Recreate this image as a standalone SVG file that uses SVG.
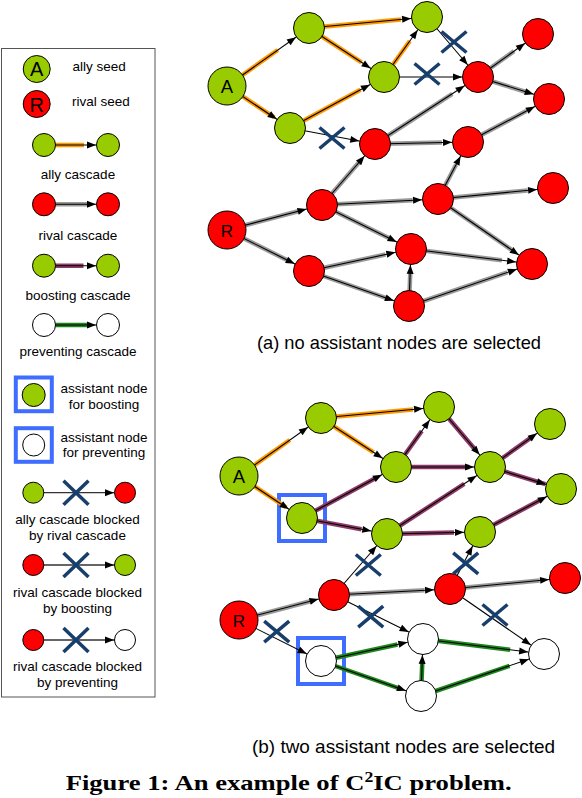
<svg xmlns="http://www.w3.org/2000/svg" width="582" height="798" viewBox="0 0 582 798">
<defs>
<style>
.n{stroke:#000;stroke-width:1}
.g{fill:#99cc00}
.r{fill:#ff0000}
.w{fill:#fff}
.l{stroke:#000;stroke-width:1.1;fill:none;marker-end:url(#ah)}
.ls{stroke:#000;stroke-width:1.1;fill:none;marker-end:url(#ahs)}
.lb{stroke:#333;stroke-width:1.3;fill:none;marker-end:url(#ahs2)}
.bo{stroke:#ff9900;stroke-width:4.5}
.bg{stroke:#9a9a9a;stroke-width:4.5}
.bp{stroke:#8e3a66;stroke-width:4.5}
.bv{stroke:#1d861d;stroke-width:4.5}
.x{stroke:#183f6b;stroke-width:3.5;fill:none}
.box{fill:none;stroke:#3f6dff;stroke-width:4}
.t{font-family:"Liberation Sans",Arial,sans-serif;fill:#000}
.lt{font-family:"Liberation Sans",Arial,sans-serif;font-size:13.5px;fill:#000}
.c{text-anchor:middle}
</style>
<marker id="ah" markerUnits="userSpaceOnUse" markerWidth="12" markerHeight="8" refX="25" refY="3.5" orient="auto" overflow="visible"><path d="M0,0 L9,3.5 L0,7 Z" fill="#000"/></marker>
<marker id="ahs" markerUnits="userSpaceOnUse" markerWidth="12" markerHeight="8" refX="21" refY="3.5" orient="auto" overflow="visible"><path d="M0,0 L9,3.5 L0,7 Z" fill="#000"/></marker>
<marker id="ahs2" markerUnits="userSpaceOnUse" markerWidth="12" markerHeight="8" refX="20" refY="3.5" orient="auto" overflow="visible"><path d="M0,0 L9,3.5 L0,7 Z" fill="#000"/></marker>
<path id="xm" d="M-12.5,-10.5 L12.5,10.5 M-12.5,10.5 L12.5,-10.5"/>
<path id="xl" d="M-12.5,-12 L12.5,12 M-12.5,12 L12.5,-12"/>
</defs>
<rect width="582" height="798" fill="#fff"/>

<!-- Legend -->
<g id="legend">
<rect x="1.5" y="48.5" width="153.5" height="648.5" fill="none" stroke="#555" stroke-width="1"/>
<g id="leg-ally-seed">
<circle class="n g" cx="36.7" cy="69" r="13.5"/>
<text class="t c" x="36.7" y="76" font-size="20">A</text>
<text class="lt" x="72.5" y="71">ally seed</text>
</g>
<g id="leg-rival-seed">
<circle class="n r" cx="36.7" cy="104" r="13.5"/>
<text class="t c" x="36.7" y="111.5" font-size="20">R</text>
<text class="lt" x="72" y="106">rival seed</text>
</g>
<g id="leg-ally-cascade">
<line class="bo" x1="44" y1="145" x2="84" y2="145"/>
<line class="ls" x1="44" y1="145" x2="108" y2="145"/>
<circle class="n g" cx="44" cy="145" r="11.5"/>
<circle class="n g" cx="108" cy="145" r="11.5"/>
<text class="lt c" x="78" y="178.5">ally cascade</text>
</g>
<g id="leg-rival-cascade">
<line class="bg" x1="44" y1="204.3" x2="87" y2="204.3"/>
<line class="ls" x1="44" y1="204.3" x2="108" y2="204.3"/>
<circle class="n r" cx="44" cy="204.3" r="11.5"/>
<circle class="n r" cx="108" cy="204.3" r="11.5"/>
<text class="lt c" x="78" y="240">rival cascade</text>
</g>
<g id="leg-boosting-cascade">
<line class="bp" x1="44" y1="265.7" x2="83.5" y2="265.7"/>
<line class="ls" x1="44" y1="265.7" x2="108" y2="265.7"/>
<circle class="n g" cx="44" cy="265.7" r="11.5"/>
<circle class="n g" cx="108" cy="265.7" r="11.5"/>
<text class="lt c" x="78" y="299.5">boosting cascade</text>
</g>
<g id="leg-preventing-cascade">
<line class="bv" x1="44" y1="325" x2="87" y2="325"/>
<line class="ls" x1="44" y1="325" x2="108" y2="325"/>
<circle class="n w" cx="44" cy="325" r="11.5"/>
<circle class="n w" cx="108" cy="325" r="11.5"/>
<text class="lt c" x="78" y="356">preventing cascade</text>
</g>
<g id="leg-assist-boost">
<rect class="box" x="15.8" y="377.5" width="36" height="33.7" stroke-width="3"/>
<circle class="n g" cx="33.7" cy="395" r="11.5"/>
<text class="lt c" x="104" y="392.5">assistant node</text>
<text class="lt c" x="104" y="408.5">for boosting</text>
</g>
<g id="leg-assist-prevent">
<rect class="box" x="15.8" y="428.2" width="36" height="33.6" stroke-width="3"/>
<circle class="n w" cx="33.7" cy="445" r="11"/>
<text class="lt c" x="104" y="441.5">assistant node</text>
<text class="lt c" x="104" y="457">for preventing</text>
</g>
<g id="leg-block-ally">
<line class="lb" x1="33.3" y1="492.7" x2="125" y2="492.7"/>
<circle class="n g" cx="33.3" cy="492.7" r="10.5"/>
<circle class="n r" cx="125" cy="492.7" r="10.5"/>
<use href="#xl" class="x" x="76" y="492.7"/>
<text class="lt c" x="77.5" y="524">ally cascade blocked</text>
<text class="lt c" x="77.5" y="540">by rival cascade</text>
</g>
<g id="leg-block-boost">
<line class="lb" x1="33.3" y1="565" x2="125" y2="565"/>
<circle class="n r" cx="33.3" cy="565" r="10.5"/>
<circle class="n g" cx="125" cy="565" r="10.5"/>
<use href="#xl" class="x" x="76" y="565"/>
<text class="lt c" x="77.5" y="597">rival cascade blocked</text>
<text class="lt c" x="77.5" y="613">by boosting</text>
</g>
<g id="leg-block-prevent">
<line class="lb" x1="33.3" y1="640" x2="125" y2="640"/>
<circle class="n r" cx="33.3" cy="640" r="10.5"/>
<circle class="n w" cx="125" cy="640" r="10.5"/>
<use href="#xl" class="x" x="76" y="640"/>
<text class="lt c" x="77.5" y="670.5">rival cascade blocked</text>
<text class="lt c" x="77.5" y="686.5">by preventing</text>
</g>
</g>

<!-- Diagram (a) -->
<g id="diagram-a">
<g id="connectors-a">
<line class="bo" x1="227" y1="86" x2="277.8" y2="50"/><line class="l" x1="227" y1="86" x2="309" y2="28"/>
<line class="bo" x1="227" y1="86" x2="274.3" y2="117.5"/><line class="l" x1="227" y1="86" x2="290" y2="128"/>
<line class="bo" x1="309" y1="28" x2="401" y2="19.4"/><line class="l" x1="309" y1="28" x2="427" y2="17"/>
<line class="bo" x1="309" y1="28" x2="361.5" y2="62.3"/><line class="l" x1="309" y1="28" x2="384" y2="77"/>
<line class="bo" x1="290" y1="128" x2="360.5" y2="89.8"/><line class="l" x1="290" y1="128" x2="384" y2="77"/>
<line class="bo" x1="384" y1="77" x2="409.8" y2="41"/><line class="l" x1="384" y1="77" x2="427" y2="17"/>
<line class="l" x1="427" y1="17" x2="478" y2="77"/>
<line class="l" x1="384" y1="77" x2="478" y2="77"/>
<line class="l" x1="290" y1="128" x2="375" y2="144"/>
<line class="bg" x1="478" y1="77" x2="514" y2="51.2"/><line class="l" x1="478" y1="77" x2="538" y2="34"/>
<line class="bg" x1="478" y1="77" x2="529.1" y2="92.8"/><line class="l" x1="478" y1="77" x2="549" y2="99"/>
<line class="bg" x1="375" y1="144" x2="452.3" y2="93.8"/><line class="l" x1="375" y1="144" x2="478" y2="77"/>
<line class="bg" x1="375" y1="144" x2="442" y2="142.6"/><line class="l" x1="375" y1="144" x2="468" y2="142"/>
<line class="bg" x1="468" y1="142" x2="526.3" y2="111"/><line class="l" x1="468" y1="142" x2="549" y2="99"/>
<line class="bg" x1="322" y1="205" x2="359.1" y2="162.3"/><line class="l" x1="322" y1="205" x2="375" y2="144"/>
<line class="bg" x1="438" y1="199" x2="456" y2="164.8"/><line class="l" x1="438" y1="199" x2="468" y2="142"/>
<line class="bg" x1="227" y1="230" x2="298.3" y2="211.3"/><line class="l" x1="227" y1="230" x2="322" y2="205"/>
<line class="bg" x1="227" y1="230" x2="288.5" y2="260.8"/><line class="l" x1="227" y1="230" x2="309" y2="271"/>
<line class="bg" x1="322" y1="205" x2="412.5" y2="200.3"/><line class="l" x1="322" y1="205" x2="438" y2="199"/>
<line class="bg" x1="322" y1="205" x2="388.8" y2="238"/><line class="l" x1="322" y1="205" x2="411" y2="249"/>
<line class="bg" x1="438" y1="199" x2="527.7" y2="190.4"/><line class="l" x1="438" y1="199" x2="553" y2="188"/>
<line class="bg" x1="438" y1="199" x2="511.3" y2="249.7"/><line class="l" x1="438" y1="199" x2="532" y2="264"/>
<line class="bg" x1="309" y1="271" x2="385.5" y2="254.5"/><line class="l" x1="309" y1="271" x2="411" y2="249"/>
<line class="bg" x1="309" y1="271" x2="389" y2="299"/><line class="l" x1="309" y1="271" x2="409" y2="306"/>
<line class="bg" x1="409" y1="306" x2="410.3" y2="272"/><line class="l" x1="409" y1="306" x2="411" y2="249"/>
<line class="bg" x1="409" y1="306" x2="507.4" y2="272.4"/><line class="l" x1="409" y1="306" x2="532" y2="264"/>
<line class="bg" x1="411" y1="249" x2="501.8" y2="260.3"/><line class="l" x1="411" y1="249" x2="532" y2="264"/>
</g>
<g id="a-A"><circle class="n g" cx="227" cy="86" r="19"/><text class="t c" x="227" y="93" font-size="18.5">A</text></g>
<g id="a-g1"><circle class="n g" cx="309" cy="28" r="15.5"/></g>
<g id="a-g2"><circle class="n g" cx="427" cy="17" r="15.5"/></g>
<g id="a-g3"><circle class="n g" cx="384" cy="77" r="15.5"/></g>
<g id="a-g4"><circle class="n g" cx="290" cy="128" r="15.5"/></g>
<g id="a-n1"><circle class="n r" cx="478" cy="77" r="15.5"/></g>
<g id="a-nt"><circle class="n r" cx="538" cy="34" r="15.5"/></g>
<g id="a-nr"><circle class="n r" cx="549" cy="99" r="15.5"/></g>
<g id="a-nm"><circle class="n r" cx="375" cy="144" r="15.5"/></g>
<g id="a-nm2"><circle class="n r" cx="468" cy="142" r="15.5"/></g>
<g id="a-R"><circle class="n r" cx="227" cy="230" r="19"/><text class="t c" x="227" y="236.5" font-size="17">R</text></g>
<g id="a-ra"><circle class="n r" cx="322" cy="205" r="15.5"/></g>
<g id="a-rb"><circle class="n r" cx="438" cy="199" r="15.5"/></g>
<g id="a-rc"><circle class="n r" cx="553" cy="188" r="15.5"/></g>
<g id="a-rd"><circle class="n r" cx="411" cy="249" r="15.5"/></g>
<g id="a-re"><circle class="n r" cx="309" cy="271" r="15.5"/></g>
<g id="a-rf"><circle class="n r" cx="409" cy="306" r="15.5"/></g>
<g id="a-rg"><circle class="n r" cx="532" cy="264" r="15.5"/></g>
<g id="blocks-a" class="x">
<use href="#xm" x="454" y="42"/>
<use href="#xm" x="427" y="74"/>
<use href="#xm" x="332" y="138"/>
</g>
<text class="t" x="257" y="349" font-size="18.5" textLength="284" lengthAdjust="spacingAndGlyphs">(a) no assistant nodes are selected</text>
</g>

<!-- Diagram (b) -->
<g id="diagram-b" transform="translate(12,390)">
<g id="assist-boxes-b">
<rect class="box" x="267" y="105" width="46" height="46"/>
<rect class="box" x="286" y="248" width="46" height="46"/>
</g>
<g id="connectors-b">
<line class="bo" x1="227" y1="86" x2="277.8" y2="50"/><line class="l" x1="227" y1="86" x2="309" y2="28"/>
<line class="bo" x1="227" y1="86" x2="274.3" y2="117.5"/><line class="l" x1="227" y1="86" x2="290" y2="128"/>
<line class="bo" x1="309" y1="28" x2="401" y2="19.4"/><line class="l" x1="309" y1="28" x2="427" y2="17"/>
<line class="bo" x1="309" y1="28" x2="361.5" y2="62.3"/><line class="l" x1="309" y1="28" x2="384" y2="77"/>
<line class="bp" x1="290" y1="128" x2="363.3" y2="88.2"/><line class="l" x1="290" y1="128" x2="384" y2="77"/>
<line class="bp" x1="290" y1="128" x2="349.5" y2="139.2"/><line class="l" x1="290" y1="128" x2="375" y2="144"/>
<line class="bp" x1="384" y1="77" x2="409.8" y2="41"/><line class="l" x1="384" y1="77" x2="427" y2="17"/>
<line class="bp" x1="384" y1="77" x2="457.3" y2="77"/><line class="l" x1="384" y1="77" x2="478" y2="77"/>
<line class="bp" x1="427" y1="17" x2="463.7" y2="60.2"/><line class="l" x1="427" y1="17" x2="478" y2="77"/>
<line class="bp" x1="478" y1="77" x2="520" y2="46.9"/><line class="l" x1="478" y1="77" x2="538" y2="34"/>
<line class="bp" x1="478" y1="77" x2="533.4" y2="94.2"/><line class="l" x1="478" y1="77" x2="549" y2="99"/>
<line class="bp" x1="375" y1="144" x2="452.3" y2="93.8"/><line class="l" x1="375" y1="144" x2="478" y2="77"/>
<line class="bp" x1="375" y1="144" x2="442" y2="142.6"/><line class="l" x1="375" y1="144" x2="468" y2="142"/>
<line class="bp" x1="468" y1="142" x2="528.8" y2="109.8"/><line class="l" x1="468" y1="142" x2="549" y2="99"/>
<line class="bg" x1="227" y1="230" x2="298.3" y2="211.3"/><line class="l" x1="227" y1="230" x2="322" y2="205"/>
<line class="bg" x1="322" y1="205" x2="412.5" y2="200.3"/><line class="l" x1="322" y1="205" x2="438" y2="199"/>
<line class="bg" x1="438" y1="199" x2="527.7" y2="190.4"/><line class="l" x1="438" y1="199" x2="553" y2="188"/>
<line class="l" x1="322" y1="205" x2="375" y2="144"/>
<line class="l" x1="438" y1="199" x2="468" y2="142"/>
<line class="l" x1="227" y1="230" x2="309" y2="271"/>
<line class="l" x1="322" y1="205" x2="411" y2="249"/>
<line class="l" x1="438" y1="199" x2="532" y2="264"/>
<line class="bv" x1="309" y1="271" x2="385.5" y2="254.5"/><line class="l" x1="309" y1="271" x2="411" y2="249"/>
<line class="bv" x1="309" y1="271" x2="389" y2="299"/><line class="l" x1="309" y1="271" x2="409" y2="306"/>
<line class="bv" x1="409" y1="306" x2="410.3" y2="272"/><line class="l" x1="409" y1="306" x2="411" y2="249"/>
<line class="bv" x1="411" y1="249" x2="498.1" y2="259.8"/><line class="l" x1="411" y1="249" x2="532" y2="264"/>
<line class="bv" x1="409" y1="306" x2="497.6" y2="275.8"/><line class="l" x1="409" y1="306" x2="532" y2="264"/>
</g>
<g id="b-A"><circle class="n g" cx="227" cy="86" r="19"/><text class="t c" x="227" y="93" font-size="18.5">A</text></g>
<g id="b-g1"><circle class="n g" cx="309" cy="28" r="15.5"/></g>
<g id="b-g2"><circle class="n g" cx="427" cy="17" r="15.5"/></g>
<g id="b-g3"><circle class="n g" cx="384" cy="77" r="15.5"/></g>
<g id="b-g4"><circle class="n g" cx="290" cy="128" r="15.5"/></g>
<g id="b-n1"><circle class="n g" cx="478" cy="77" r="15.5"/></g>
<g id="b-nt"><circle class="n g" cx="538" cy="34" r="15.5"/></g>
<g id="b-nr"><circle class="n g" cx="549" cy="99" r="15.5"/></g>
<g id="b-nm"><circle class="n g" cx="375" cy="144" r="15.5"/></g>
<g id="b-nm2"><circle class="n g" cx="468" cy="142" r="15.5"/></g>
<g id="b-R"><circle class="n r" cx="227" cy="230" r="19"/><text class="t c" x="227" y="236.5" font-size="17">R</text></g>
<g id="b-ra"><circle class="n r" cx="322" cy="205" r="15.5"/></g>
<g id="b-rb"><circle class="n r" cx="438" cy="199" r="15.5"/></g>
<g id="b-rc"><circle class="n r" cx="553" cy="188" r="15.5"/></g>
<g id="b-rd"><circle class="n w" cx="411" cy="249" r="15.5"/></g>
<g id="b-re"><circle class="n w" cx="309" cy="271" r="15.5"/></g>
<g id="b-rf"><circle class="n w" cx="409" cy="306" r="15.5"/></g>
<g id="b-rg"><circle class="n w" cx="532" cy="264" r="15.5"/></g>
<g id="blocks-b" class="x">
<use href="#xm" x="356.3" y="175"/>
<use href="#xm" x="453.7" y="173.3"/>
<use href="#xm" x="264.7" y="241.7"/>
<use href="#xm" x="358.7" y="226.7"/>
<use href="#xm" x="483" y="225"/>
</g>
</g>
<text class="t" x="252" y="752.7" font-size="18.5" textLength="303" lengthAdjust="spacingAndGlyphs">(b) two assistant nodes are selected</text>

<text x="65.7" y="790" font-family="'Liberation Serif','Times New Roman',serif" font-weight="bold" font-size="21" textLength="446" lengthAdjust="spacingAndGlyphs">Figure 1: An example of C<tspan dy="-8" font-size="14">2</tspan><tspan dy="8">IC problem.</tspan></text>
</svg>
